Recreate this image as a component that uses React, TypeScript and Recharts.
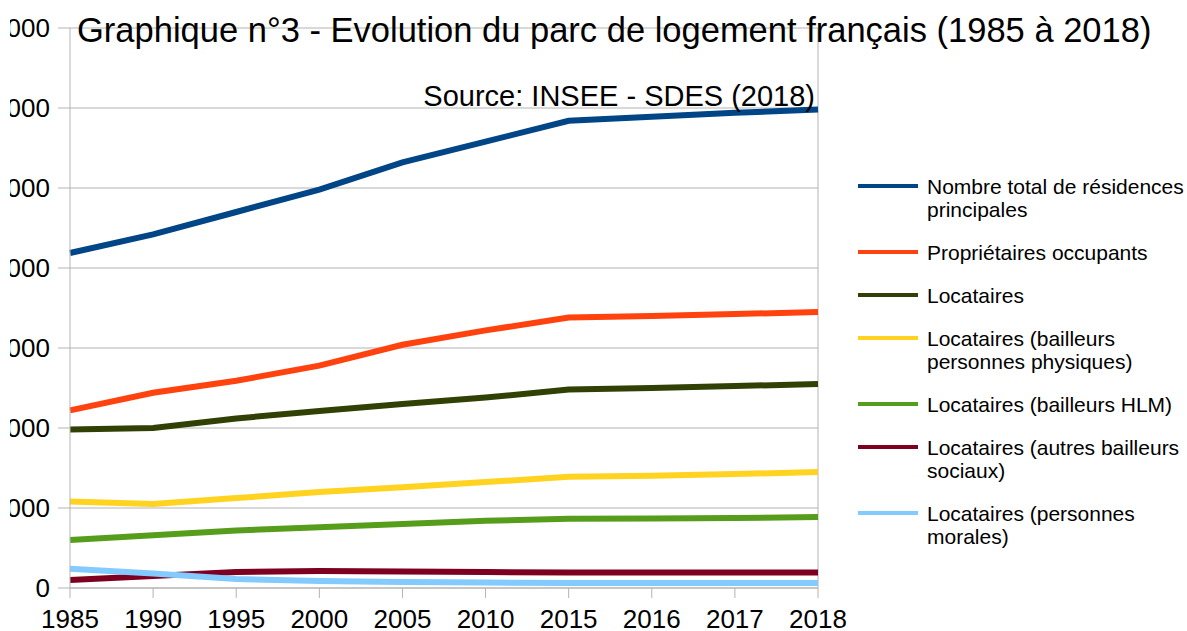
import { LineChart, Line, XAxis, YAxis, CartesianGrid, ReferenceLine } from "recharts";

const years = ["1985", "1990", "1995", "2000", "2005", "2010", "2015", "2016", "2017", "2018"];

const totalResidences = [20940000, 22100000, 23500000, 24900000, 26600000, 27900000, 29200000, 29450000, 29700000, 29900000];
const proprietaires = [11100000, 12200000, 12950000, 13900000, 15200000, 16100000, 16900000, 17000000, 17120000, 17250000];
const locataires = [9900000, 10000000, 10600000, 11060000, 11500000, 11900000, 12400000, 12500000, 12620000, 12750000];
const locatairesPhysiques = [5400000, 5250000, 5620000, 6000000, 6300000, 6620000, 6950000, 7020000, 7120000, 7250000];
const locatairesHlm = [3000000, 3300000, 3600000, 3800000, 4000000, 4200000, 4330000, 4350000, 4380000, 4430000];
const locatairesAutresSociaux = [500000, 750000, 1000000, 1060000, 1030000, 1000000, 970000, 970000, 970000, 970000];
const locatairesMorales = [1200000, 900000, 560000, 440000, 380000, 340000, 310000, 310000, 310000, 310000];

const yTicks = [0, 5000000, 10000000, 15000000, 20000000, 25000000, 30000000, 35000000];

const series = [
  { key: "total", name: "Nombre total de résidences principales", color: "#004586", values: totalResidences },
  { key: "prop", name: "Propriétaires occupants", color: "#ff420e", values: proprietaires },
  { key: "loc", name: "Locataires", color: "#314004", values: locataires },
  { key: "phys", name: "Locataires (bailleurs personnes physiques)", color: "#ffd320", values: locatairesPhysiques },
  { key: "hlm", name: "Locataires (bailleurs HLM)", color: "#579d1c", values: locatairesHlm },
  { key: "autres", name: "Locataires (autres bailleurs sociaux)", color: "#7e0021", values: locatairesAutresSociaux },
  { key: "morales", name: "Locataires (personnes morales)", color: "#83caff", values: locatairesMorales },
];

const data = years.map((year, i) => {
  const row: Record<string, string | number> = { year };
  series.forEach((s) => {
    row[s.key] = s.values[i];
  });
  return row;
});

const fmt = (v: number) => String(v).replace(/\B(?=(\d{3})+(?!\d))/g, " ");

const FONT = "'Liberation Sans', Arial, sans-serif";
const GRID = "#b3b3b3";

export default function App() {
  return (
    <div
      style={{
        position: "fixed",
        left: 0,
        top: 0,
        width: 1187,
        height: 631,
        overflow: "hidden",
        background: "#fff",
        fontFamily: FONT,
      }}
    >
      <LineChart
        width={1287}
        height={631}
        data={data}
        margin={{ top: 28, right: 369, bottom: 0, left: 0 }}
        style={{ position: "absolute", left: -100, top: 0 }}
      >
        <CartesianGrid vertical={false} stroke={GRID} />
        <XAxis
          dataKey="year"
          height={43}
          tickSize={10}
          tickMargin={12}
          interval={0}
          axisLine={{ stroke: GRID }}
          tickLine={{ stroke: GRID }}
          tick={{ fill: "#000", fontSize: 26, fontFamily: FONT }}
        />
        <YAxis
          width={170}
          domain={[0, 35000000]}
          ticks={yTicks}
          tickFormatter={fmt}
          tickSize={12}
          tickMargin={8}
          axisLine={{ stroke: GRID }}
          tickLine={{ stroke: GRID }}
          tick={{ fill: "#000", fontSize: 26, fontFamily: FONT }}
        />
        <ReferenceLine x="2018" stroke={GRID} />
        {series.map((s) => (
          <Line
            key={s.key}
            dataKey={s.key}
            name={s.name}
            stroke={s.color}
            strokeWidth={6}
            dot={false}
            activeDot={false}
            isAnimationActive={false}
          />
        ))}
      </LineChart>
      <div style={{ position: "absolute", left: 0, top: 0, width: 10, height: 560, background: "#fff" }} />
      <div
        style={{
          position: "absolute",
          left: 858,
          top: 174.5,
          fontSize: 21,
          lineHeight: "23px",
          color: "#000",
        }}
      >
        {series.map((s) => (
          <div key={s.key} style={{ display: "flex", marginBottom: 20 }}>
            <div style={{ width: 60, height: 4, background: s.color, marginTop: 9.5, marginRight: 9, flexShrink: 0 }} />
            <div style={{ width: 262 }}>{s.name}</div>
          </div>
        ))}
      </div>
      <div
        style={{
          position: "absolute",
          left: 77,
          top: 13,
          fontSize: 34.5,
          lineHeight: "34px",
          whiteSpace: "nowrap",
          color: "#000",
        }}
      >
        Graphique n°3 - Evolution du parc de logement français (1985 à 2018)
      </div>
      <div
        style={{
          position: "absolute",
          right: 1187 - 815,
          top: 82,
          fontSize: 29,
          lineHeight: "28px",
          whiteSpace: "nowrap",
          color: "#000",
        }}
      >
        Source: INSEE - SDES (2018)
      </div>
    </div>
  );
}
